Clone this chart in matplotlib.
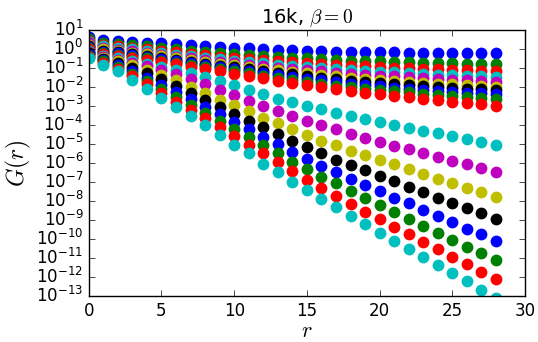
import matplotlib
matplotlib.use('Agg')
import matplotlib.pyplot as plt
import matplotlib.ticker as ticker
import numpy as np

plt.style.use('classic')

r = list(range(29))

# log10 G(r) for each curve (top curve first)
log_G = [
    [0.66, 0.46, 0.40, 0.36, 0.33, 0.30, 0.25, 0.19, 0.14, 0.11, 0.08, 0.04, 0.00, -0.03, -0.07,
     -0.09, -0.11, -0.13, -0.15, -0.16, -0.17, -0.17, -0.18, -0.18, -0.19, -0.19, -0.20, -0.20, -0.20],
    [0.55, 0.33, 0.27, 0.21, 0.15, 0.07, 0.00, -0.08, -0.15, -0.20, -0.26, -0.31, -0.37, -0.42, -0.46,
     -0.49, -0.53, -0.56, -0.60, -0.62, -0.65, -0.67, -0.70, -0.72, -0.73, -0.75, -0.76, -0.78, -0.79],
    [0.45, 0.22, 0.15, 0.07, 0.00, -0.08, -0.17, -0.25, -0.33, -0.39, -0.45, -0.52, -0.58, -0.64, -0.69,
     -0.74, -0.78, -0.83, -0.88, -0.91, -0.94, -0.98, -1.01, -1.04, -1.06, -1.09, -1.11, -1.14, -1.16],
    [0.38, 0.14, 0.06, -0.02, -0.10, -0.19, -0.29, -0.38, -0.47, -0.54, -0.61, -0.68, -0.75, -0.82, -0.88,
     -0.93, -0.99, -1.04, -1.10, -1.14, -1.18, -1.23, -1.27, -1.31, -1.34, -1.37, -1.40, -1.43, -1.46],
    [0.30, 0.06, -0.03, -0.11, -0.20, -0.30, -0.39, -0.49, -0.58, -0.66, -0.74, -0.82, -0.90, -0.98, -1.04,
     -1.11, -1.17, -1.24, -1.30, -1.35, -1.40, -1.44, -1.49, -1.54, -1.58, -1.61, -1.65, -1.68, -1.72],
    [0.23, -0.02, -0.11, -0.19, -0.28, -0.38, -0.48, -0.58, -0.68, -0.77, -0.86, -0.94, -1.03, -1.12, -1.20,
     -1.27, -1.35, -1.42, -1.50, -1.55, -1.61, -1.66, -1.72, -1.77, -1.81, -1.85, -1.90, -1.94, -1.98],
    [0.16, -0.08, -0.17, -0.26, -0.35, -0.46, -0.56, -0.67, -0.77, -0.87, -0.96, -1.06, -1.15, -1.25, -1.33,
     -1.42, -1.50, -1.59, -1.67, -1.73, -1.78, -1.84, -1.89, -1.95, -1.99, -2.03, -2.08, -2.12, -2.16],
    [0.10, -0.14, -0.23, -0.33, -0.42, -0.53, -0.64, -0.75, -0.86, -0.96, -1.06, -1.17, -1.27, -1.37, -1.46,
     -1.55, -1.65, -1.74, -1.84, -1.90, -1.96, -2.03, -2.09, -2.15, -2.20, -2.24, -2.29, -2.33, -2.38],
    [0.04, -0.20, -0.30, -0.39, -0.49, -0.61, -0.72, -0.84, -0.95, -1.06, -1.17, -1.28, -1.39, -1.50, -1.60,
     -1.71, -1.81, -1.92, -2.02, -2.09, -2.15, -2.22, -2.28, -2.35, -2.40, -2.45, -2.50, -2.55, -2.60],
    [-0.02, -0.26, -0.36, -0.46, -0.56, -0.68, -0.80, -0.92, -1.04, -1.16, -1.29, -1.41, -1.54, -1.66, -1.77,
     -1.88, -1.98, -2.09, -2.20, -2.29, -2.37, -2.46, -2.54, -2.63, -2.70, -2.77, -2.83, -2.90, -2.97],
    [-0.10, -0.34, -0.47, -0.62, -0.78, -0.93, -1.10, -1.27, -1.45, -1.68, -1.91, -2.15, -2.38, -2.60, -2.80,
     -2.97, -3.15, -3.35, -3.51, -3.68, -3.86, -4.00, -4.14, -4.30, -4.44, -4.56, -4.74, -4.88, -5.02],
    [-0.14, -0.40, -0.55, -0.72, -0.90, -1.10, -1.33, -1.58, -1.85, -2.14, -2.43, -2.72, -2.98, -3.26, -3.51,
     -3.77, -4.00, -4.23, -4.47, -4.70, -4.91, -5.10, -5.28, -5.49, -5.70, -5.88, -6.07, -6.28, -6.46],
    [-0.18, -0.46, -0.64, -0.85, -1.08, -1.35, -1.65, -1.98, -2.33, -2.66, -2.95, -3.28, -3.60, -3.91, -4.23,
     -4.53, -4.82, -5.07, -5.35, -5.58, -5.84, -6.07, -6.33, -6.58, -6.84, -7.07, -7.30, -7.54, -7.77],
    [-0.23, -0.52, -0.74, -0.99, -1.27, -1.58, -1.93, -2.30, -2.68, -3.06, -3.41, -3.77, -4.12, -4.47, -4.84,
     -5.14, -5.49, -5.81, -6.08, -6.37, -6.68, -6.95, -7.28, -7.54, -7.82, -8.10, -8.35, -8.65, -8.95],
    [-0.28, -0.58, -0.85, -1.16, -1.50, -1.87, -2.25, -2.64, -3.04, -3.42, -3.82, -4.23, -4.61, -5.00, -5.40,
     -5.79, -6.14, -6.46, -6.82, -7.16, -7.46, -7.81, -8.12, -8.47, -8.77, -9.09, -9.44, -9.74, -10.09],
    [-0.34, -0.65, -0.95, -1.30, -1.68, -2.10, -2.53, -2.95, -3.37, -3.77, -4.18, -4.61, -5.05, -5.46, -5.93,
     -6.33, -6.72, -7.07, -7.46, -7.82, -8.20, -8.58, -8.95, -9.32, -9.67, -10.02, -10.40, -10.75, -11.10],
    [-0.40, -0.72, -1.05, -1.43, -1.85, -2.30, -2.78, -3.22, -3.65, -4.12, -4.58, -5.05, -5.49, -5.96, -6.42,
     -6.89, -7.33, -7.74, -8.15, -8.56, -8.96, -9.35, -9.75, -10.14, -10.54, -10.93, -11.32, -11.72, -12.12],
    [-0.47, -0.82, -1.17, -1.60, -2.08, -2.56, -3.05, -3.50, -4.00, -4.53, -5.02, -5.49, -6.02, -6.49, -6.98,
     -7.42, -7.90, -8.33, -8.77, -9.21, -9.65, -10.09, -10.53, -10.93, -11.37, -11.77, -12.21, -12.65, -13.07],
]

colors = ['b', 'g', 'r', 'c', 'm', 'y', 'k']

fig = plt.figure(figsize=(5.38, 3.42), dpi=100, facecolor='white')
ax = fig.add_axes([0.165, 0.134, 0.811, 0.778])

for i, lg in enumerate(log_G):
    ax.plot(r, 10.0 ** np.array(lg), 'o', color=colors[i % 7],
            markersize=8.5, markeredgewidth=0)

ax.set_yscale('log')
ax.set_xlim(0, 30)
ax.set_ylim(1e-13, 1e1)
ax.yaxis.set_major_locator(ticker.LogLocator(base=10, numticks=20))
ax.yaxis.set_minor_locator(ticker.NullLocator())
ax.set_xticks([0, 5, 10, 15, 20, 25, 30])

ax.set_title(r'16k, $\beta=0$', fontsize=14)
ax.set_xlabel(r'$r$', fontsize=16)
ax.xaxis.set_label_coords(0.5, -0.092)
ax.set_ylabel(r'$G(r)$', fontsize=17, labelpad=2)

fig.savefig('out.png', dpi=100, facecolor='white')
